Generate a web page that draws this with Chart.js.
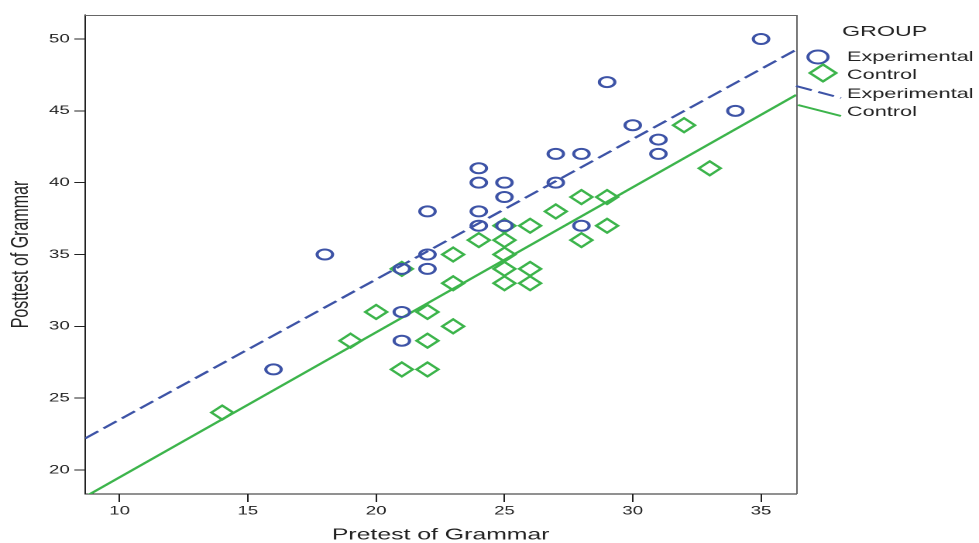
<!DOCTYPE html>
<html>
<head>
<meta charset="utf-8">
<script src="https://cdn.jsdelivr.net/npm/chart.js@4/dist/chart.umd.min.js"></script>
<style>
  html, body { margin: 0; padding: 0; background: #fff; }
  /* the source picture is stretched sideways, so draw narrow and stretch */
  #wrap { width: 632px; height: 543px; transform: scaleX(1.549); transform-origin: 0 0; }
</style>
</head>
<body>
<div id="wrap"><canvas id="scatterChart" width="632" height="543"></canvas></div>
<script>
// Data (Pretest vs Posttest of Grammar)
const expPre = [16, 18, 21, 21, 21, 22, 22, 22, 24, 24, 24, 24, 25, 25, 25, 27, 27, 28, 28, 29, 30, 31, 31, 34, 35];
const expPost = [27, 35, 34, 31, 29, 35, 34, 38, 41, 40, 38, 37, 40, 39, 37, 42, 40, 42, 37, 47, 44, 43, 42, 45, 50];
const ctrlPre = [14, 19, 20, 21, 21, 22, 22, 22, 23, 23, 23, 24, 25, 25, 25, 25, 25, 26, 26, 26, 27, 28, 28, 29, 29, 32, 33];
const ctrlPost = [24, 29, 31, 34, 27, 31, 29, 27, 35, 33, 30, 36, 37, 36, 35, 34, 33, 37, 34, 33, 38, 39, 36, 39, 37, 44, 41];

// fit lines, read at the plot edges
const expFitX = [8.66, 36.37];
const expFitY = [22.2, 49.25];
const ctrlFitX = [8.66, 36.37];
const ctrlFitY = [18.14, 46.11];

const xTicks = [10, 15, 20, 25, 30, 35];
const yTicks = [20, 25, 30, 35, 40, 45, 50];

const BLUE = "#3d53a6";
const GREEN = "#3cb44b";
const FONT = "'Liberation Sans', Arial, sans-serif";

const toPoints = (xs, ys) => xs.map((x, i) => ({ x, y: ys[i] }));

// box round the plot + SPSS style legend
const extrasPlugin = {
  id: "extras",
  afterDraw(chart) {
    const { ctx, chartArea: a } = chart;
    ctx.save();
    ctx.strokeStyle = "#666";
    ctx.lineWidth = 1;
    ctx.beginPath();
    ctx.moveTo(a.left, a.top + 0.5);
    ctx.lineTo(a.right + 0.5, a.top + 0.5);
    ctx.lineTo(a.right + 0.5, a.bottom);
    ctx.stroke();

    const sx = 1.549;
    const tx = 847 / sx;
    ctx.fillStyle = "#222";
    ctx.textBaseline = "middle";
    ctx.font = "15px " + FONT;
    ctx.fillText("GROUP", 842 / sx, 32);
    ctx.font = "14px " + FONT;
    ctx.fillText("Experimental", tx, 57);
    ctx.fillText("Control", tx, 75);
    ctx.fillText("Experimental", tx, 94);
    ctx.fillText("Control", tx, 112);

    // circle
    ctx.lineWidth = 2;
    ctx.strokeStyle = BLUE;
    ctx.beginPath();
    ctx.arc(818 / sx, 57, 6.5, 0, Math.PI * 2);
    ctx.stroke();
    // diamond
    ctx.strokeStyle = GREEN;
    const dx = 823 / sx, dy = 73, r = 8.5;
    ctx.beginPath();
    ctx.moveTo(dx, dy - r);
    ctx.lineTo(dx + r, dy);
    ctx.lineTo(dx, dy + r);
    ctx.lineTo(dx - r, dy);
    ctx.closePath();
    ctx.stroke();
    // line samples
    ctx.lineWidth = 2;
    ctx.strokeStyle = BLUE;
    ctx.setLineDash([11, 4.5]);
    ctx.beginPath();
    ctx.moveTo(796 / sx, 86);
    ctx.lineTo(841 / sx, 98);
    ctx.stroke();
    ctx.setLineDash([]);
    ctx.strokeStyle = GREEN;
    ctx.beginPath();
    ctx.moveTo(798 / sx, 105);
    ctx.lineTo(841 / sx, 116);
    ctx.stroke();
    ctx.restore();
  },
};

const ctx = document.getElementById("scatterChart").getContext("2d");

new Chart(ctx, {
  type: "scatter",
  data: {
    datasets: [
      {
        label: "Experimental",
        data: toPoints(expPre, expPost),
        pointStyle: "circle",
        pointRadius: 5,
        pointBorderWidth: 2,
        borderColor: BLUE,
        backgroundColor: "rgba(0,0,0,0)",
        order: 1,
      },
      {
        label: "Control",
        data: toPoints(ctrlPre, ctrlPost),
        pointStyle: "rectRot",
        pointRadius: 7,
        pointBorderWidth: 2,
        borderColor: GREEN,
        backgroundColor: "rgba(0,0,0,0)",
        order: 2,
      },
      {
        label: "Experimental fit",
        data: toPoints(expFitX, expFitY),
        showLine: true,
        pointRadius: 0,
        borderColor: BLUE,
        borderWidth: 2,
        borderDash: [11, 4.5],
        order: 3,
      },
      {
        label: "Control fit",
        data: toPoints(ctrlFitX, ctrlFitY),
        showLine: true,
        pointRadius: 0,
        borderColor: GREEN,
        borderWidth: 2,
        order: 4,
      },
    ],
  },
  options: {
    responsive: false,
    animation: false,
    devicePixelRatio: 2,
    layout: { padding: { left: 0, right: 118, top: 15, bottom: 0 } },
    plugins: {
      legend: { display: false },
      tooltip: { enabled: false },
    },
    scales: {
      x: {
        type: "linear",
        min: 8.66,
        max: 36.37,
        afterBuildTicks: (axis) => { axis.ticks = xTicks.map((v) => ({ value: v })); },
        afterFit: (axis) => { axis.height = 49; },
        grid: { drawOnChartArea: false, drawTicks: true, tickLength: 8, color: "#222" },
        border: { display: true, color: "#222", width: 1 },
        ticks: { color: "#222", font: { family: FONT, size: 12 }, padding: 2, maxRotation: 0 },
        title: {
          display: true,
          text: "Pretest of Grammar",
          color: "#222",
          font: { family: FONT, size: 16, lineHeight: 1 },
          padding: { top: 4, bottom: 0 },
        },
      },
      y: {
        type: "linear",
        min: 18.33,
        max: 51.67,
        afterBuildTicks: (axis) => { axis.ticks = yTicks.map((v) => ({ value: v })); },
        afterFit: (axis) => { axis.width = 55; },
        grid: { drawOnChartArea: false, drawTicks: true, tickLength: 7, color: "#222" },
        border: { display: true, color: "#222", width: 1 },
        ticks: { color: "#222", font: { family: FONT, size: 12 }, padding: 3 },
        title: {
          display: true,
          text: "Posttest of Grammar",
          color: "#222",
          font: { family: FONT, size: 16 },
          padding: { top: 4, bottom: 4 },
        },
      },
    },
  },
  plugins: [extrasPlugin],
});
</script>
</body>
</html>
